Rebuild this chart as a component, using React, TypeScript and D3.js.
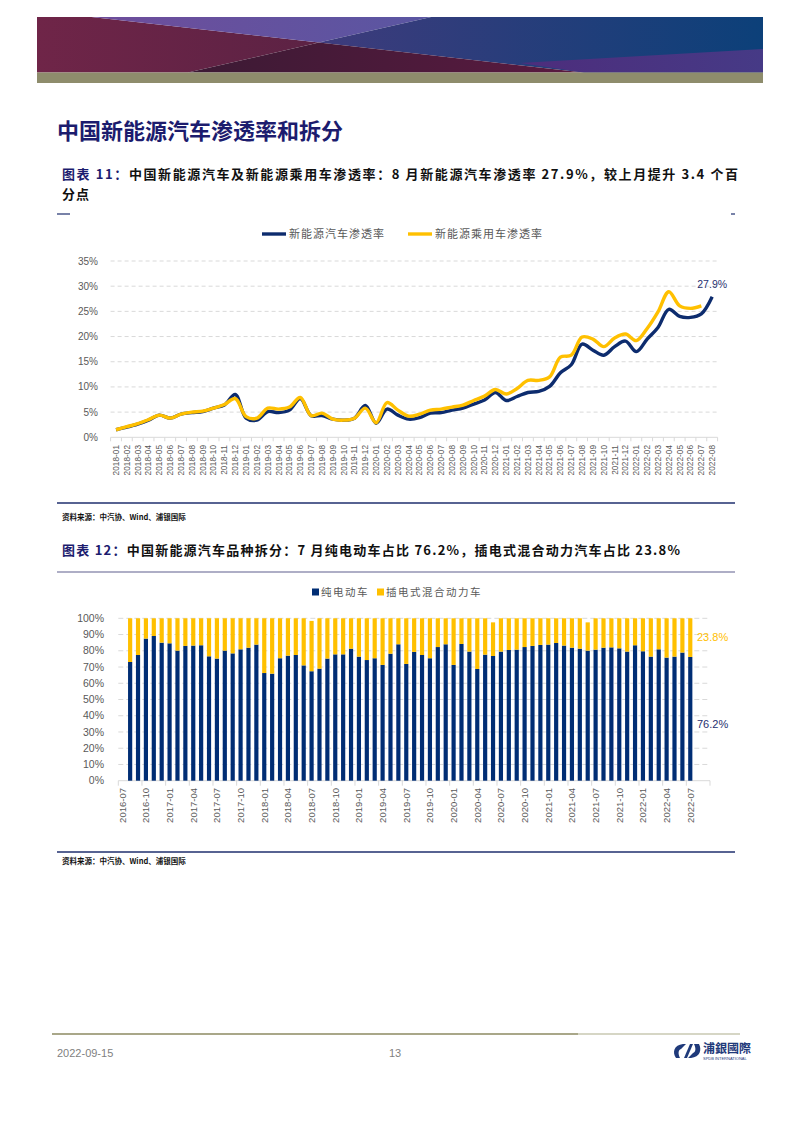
import React from "react";
import * as d3 from "d3";

// ---------- Chart 1 data ----------
const months1: string[] = (() => {
  const out: string[] = [];
  for (let y = 2018; y <= 2022; y++)
    for (let m = 1; m <= 12; m++) {
      if (y === 2022 && m > 8) break;
      out.push(`${y}-${String(m).padStart(2, "0")}`);
    }
  return out;
})();

const nevRate: number[] = [
  1.5, 2.0, 2.6, 3.4, 4.4, 3.8, 4.6, 4.9, 5.1, 5.8, 6.4, 8.5,
  3.8, 3.4, 5.1, 4.9, 5.4, 7.7, 4.3, 4.3, 3.6, 3.4, 3.8, 6.3,
  2.8, 5.6, 4.4, 3.6, 3.9, 4.8, 4.9, 5.4, 5.8, 6.6, 7.4, 8.9,
  7.3, 8.1, 8.9, 9.1, 10.1, 12.8, 14.4, 18.5, 17.3, 16.3, 18.0, 19.1,
  17.0, 19.5, 21.8, 25.4, 24.0, 23.8, 24.5, 27.9,
];
const passRate: number[] = [
  1.5, 2.1, 2.7, 3.5, 4.4, 3.8, 4.6, 5.0, 5.2, 5.8, 6.5, 7.7,
  4.1, 3.8, 5.8, 5.6, 6.0, 7.9, 4.3, 4.8, 3.6, 3.4, 3.8, 5.8,
  2.9, 6.9, 5.4, 4.2, 4.6, 5.4, 5.6, 6.0, 6.4, 7.3, 8.2, 9.5,
  8.6, 9.7, 11.3, 11.3, 12.0, 15.9, 16.3, 19.9, 19.5, 18.0, 19.7, 20.5,
  19.2, 21.6, 24.9, 28.9, 26.1, 25.6, 26.1,
];
const yTicks1: number[] = [0, 5, 10, 15, 20, 25, 30, 35];

// ---------- Chart 2 data ----------
const months2: string[] = (() => {
  const out: string[] = [];
  for (let y = 2016; y <= 2022; y++)
    for (let m = 1; m <= 12; m++) {
      if (y === 2016 && m < 7) continue;
      if (y === 2022 && m > 9) break;
      out.push(`${y}-${String(m).padStart(2, "0")}`);
    }
  return out;
})();
// first category (2016-07) and last two (2022-08, 2022-09) carry no bars
const bevStart = "2016-08";
const bevShare: number[] = [
  73.1, 77.4, 87.5, 89.1, 85.0, 84.6, 80.1, 83.0, 83.2, 83.4,
  76.6, 75.2, 80.1, 78.4, 80.9, 81.9, 83.8, 66.3, 65.9, 75.4,
  77.0, 77.4, 71.0, 67.4, 69.0, 75.2, 77.8, 77.8, 81.3, 76.4,
  74.3, 75.4, 71.3, 78.2, 84.0, 71.9, 79.3, 77.4, 75.4, 82.3,
  84.0, 71.3, 84.2, 79.5, 68.8, 77.6, 76.8, 79.5, 80.5, 80.7,
  82.3, 83.0, 83.6, 83.8, 84.8, 83.2, 81.9, 81.3, 80.1, 80.7,
  81.9, 82.1, 81.5, 79.5, 83.4, 79.7, 76.4, 80.9, 75.8, 76.4,
  78.9, 76.2,
];
const phevShare: number[] = [
  26.9, 22.6, 12.5, 10.9, 15.0, 15.4, 19.9, 17.0, 16.8, 16.6,
  23.4, 24.8, 19.9, 21.6, 19.1, 18.1, 16.2, 33.7, 34.1, 24.6,
  23.0, 22.6, 29.0, 31.0, 31.0, 24.8, 22.2, 22.2, 18.7, 23.6,
  25.7, 24.6, 28.7, 21.8, 16.0, 28.1, 20.7, 22.6, 24.6, 17.7,
  16.0, 28.7, 15.8, 20.5, 31.2, 22.4, 20.7, 20.5, 19.5, 19.3,
  17.7, 17.0, 16.4, 16.2, 15.2, 16.8, 18.1, 18.7, 17.4, 19.3,
  18.1, 17.9, 18.5, 20.5, 16.6, 20.3, 23.6, 19.1, 24.2, 23.6,
  21.1, 23.8,
];
const yTicks2: number[] = [0, 10, 20, 30, 40, 50, 60, 70, 80, 90, 100];

const NAVY = "#0d2c6e";
const YELLOW = "#ffc000";
const GRID = "#d9d9d9";
const AXIS_TXT = "#595959";
const CJK = "'Noto Sans CJK SC', 'Noto Sans', sans-serif";
const LAT = "'Liberation Sans', Arial, sans-serif";

function Banner() {
  const x0 = 37, x1 = 763, y0 = 17, y1 = 72.5;
  const P = (pts: number[][]) => pts.map((p) => p.join(",")).join(" ");
  return (
    <g>
      <defs>
        <linearGradient id="gR1" x1="0" x2="1"><stop offset="0" stopColor="#6f2548" /><stop offset="1" stopColor="#5c2244" /></linearGradient>
        <linearGradient id="gR2" x1="0" x2="1"><stop offset="0" stopColor="#6e4d9b" /><stop offset="1" stopColor="#5a56a2" /></linearGradient>
        <linearGradient id="gR3" x1="0" x2="1"><stop offset="0" stopColor="#3e3b7c" /><stop offset="1" stopColor="#0c4079" /></linearGradient>
        <linearGradient id="gR4" x1="0" x2="1"><stop offset="0" stopColor="#3c1a34" /><stop offset="1" stopColor="#5a1a40" /></linearGradient>
        <linearGradient id="gR5" x1="0" x2="1"><stop offset="0" stopColor="#4d2d7c" /><stop offset="1" stopColor="#463a86" /></linearGradient>
      </defs>
      <polygon points={P([[x0, y0], [91.5, y0], [318.9, 42.6], [188, y1], [x0, y1]])} fill="url(#gR1)" />
      <polygon points={P([[91.5, y0], [431.2, y0], [318.9, 42.6]])} fill="url(#gR2)" />
      <polygon points={P([[431.2, y0], [x1, y0], [x1, y1], [583.7, y1], [318.9, 42.6]])} fill="url(#gR3)" />
      <polygon points={P([[318.9, 42.6], [583.7, y1], [188, y1]])} fill="url(#gR4)" />
      <polygon points={P([[520, 63], [x1, 49], [x1, y1], [583.7, y1]])} fill="url(#gR5)" />
      <rect x={x0} y={y1} width={x1 - x0} height={10.5} fill="#8e8c6c" />
    </g>
  );
}

function Chart1() {
  const x = d3.scaleBand<string>().domain(months1).range([110.6, 717.6]);
  const bw = x.bandwidth();
  const cx = (d: string) => (x(d) as number) + bw / 2;
  const y = d3.scaleLinear().domain([0, 35]).range([437.3, 261]);
  const line = d3
    .line<number>()
    .x((_, i) => cx(months1[i]))
    .y((v) => y(v))
    .curve(d3.curveCatmullRom.alpha(0.5));
  const last = months1[nevRate.length - 1];
  return (
    <g>
      {yTicks1.map((t) => (
        <g key={t}>
          {t > 0 && (
            <line x1={110.6} x2={717.6} y1={y(t)} y2={y(t)} stroke={GRID} strokeWidth={1} strokeDasharray="4,3" />
          )}
          <text x={98} y={y(t)} dy="0.35em" textAnchor="end" fontSize={10} fill={AXIS_TXT} fontFamily={LAT}>
            {t}%
          </text>
        </g>
      ))}
      <line x1={110.6} x2={717.6} y1={y(0)} y2={y(0)} stroke={GRID} strokeWidth={1} />
      {months1.map((m) => (
        <line key={"t" + m} x1={x(m) as number} x2={x(m) as number} y1={y(0)} y2={y(0) + 4} stroke={GRID} />
      ))}
      <line x1={717.6} x2={717.6} y1={y(0)} y2={y(0) + 4} stroke={GRID} />
      {months1.map((m) => (
        <text
          key={"l" + m}
          transform={`translate(${cx(m) + 2.9},${445}) rotate(-90)`}
          textAnchor="end"
          fontSize={8.3}
          fill={AXIS_TXT}
          fontFamily={LAT}
        >
          {m}
        </text>
      ))}
      <path d={line(nevRate) || ""} fill="none" stroke={NAVY} strokeWidth={3.4} strokeLinejoin="round" />
      <path d={line(passRate) || ""} fill="none" stroke={YELLOW} strokeWidth={3.4} strokeLinejoin="round" />
      <text x={cx(last)} y={y(nevRate[nevRate.length - 1]) - 9} textAnchor="middle" fontSize={10.5} fill="#1f3070" fontFamily={LAT}>
        27.9%
      </text>
      {/* legend */}
      <line x1={262} x2={286} y1={234} y2={234} stroke={NAVY} strokeWidth={3.4} />
      <text x={289} y={238} fontSize={11} fill={AXIS_TXT} fontFamily={CJK} letterSpacing={1}>新能源汽车渗透率</text>
      <line x1={408} x2={432} y1={234} y2={234} stroke={YELLOW} strokeWidth={3.4} />
      <text x={435} y={238} fontSize={11} fill={AXIS_TXT} fontFamily={CJK} letterSpacing={1}>新能源乘用车渗透率</text>
    </g>
  );
}

function Chart2() {
  const x = d3.scaleBand<string>().domain(months2).range([118.3, 710]).paddingInner(0.47).paddingOuter(0.235);
  const xb = d3.scaleBand<string>().domain(months2).range([118.3, 710]);
  const y = d3.scaleLinear().domain([0, 100]).range([780.7, 618.3]);
  const startIdx = months2.indexOf(bevStart);
  const bars = bevShare.map((b, i) => ({ m: months2[startIdx + i], b, p: phevShare[i] }));
  const labelMonths = months2.filter((_, i) => i % 3 === 0 && i < months2.length - 2);
  const tickIdx = d3.range(0, months2.length + 1, 3);
  const cxb = (d: string) => (xb(d) as number) + xb.bandwidth() / 2;
  const lastBar = bars[bars.length - 1];
  return (
    <g>
      {yTicks2.map((t) => (
        <g key={t}>
          {t > 0 && (
            <line x1={118.3} x2={710} y1={y(t)} y2={y(t)} stroke={GRID} strokeWidth={1} strokeDasharray="5,3" />
          )}
          <text x={104} y={y(t)} dy="0.35em" textAnchor="end" fontSize={10.5} fill={AXIS_TXT} fontFamily={LAT}>
            {t}%
          </text>
        </g>
      ))}
      <line x1={118.3} x2={710} y1={y(0)} y2={y(0)} stroke={GRID} strokeWidth={1} />
      {tickIdx.map((i) => {
        const xx = 118.3 + i * xb.bandwidth();
        return <line key={"tk" + i} x1={xx} x2={xx} y1={y(0)} y2={y(0) + 5} stroke={GRID} />;
      })}
      {bars.map((d) => (
        <g key={d.m}>
          <rect x={x(d.m)} width={x.bandwidth()} y={y(d.b)} height={y(0) - y(d.b)} fill="#002d74" />
          <rect x={x(d.m)} width={x.bandwidth()} y={y(d.b + d.p)} height={y(d.b) - y(d.b + d.p)} fill={YELLOW} />
        </g>
      ))}
      {labelMonths.map((m) => (
        <text
          key={"l" + m}
          transform={`translate(${cxb(m) + 3.4},${788}) rotate(-90)`}
          textAnchor="end"
          fontSize={9.5}
          fill={AXIS_TXT}
          fontFamily={LAT}
        >
          {m}
        </text>
      ))}
      <text x={697} y={y(lastBar.b + lastBar.p / 2)} dy="0.35em" fontSize={11} fill={YELLOW} fontFamily={LAT}>
        {lastBar.p}%
      </text>
      <text x={697} y={y(lastBar.b / 2) + 5} dy="0.35em" fontSize={11} fill="#1f3070" fontFamily={LAT}>
        {lastBar.b}%
      </text>
      {/* legend */}
      <rect x={312} y={588.5} width={7} height={7} fill="#002d74" />
      <text x={321} y={596} fontSize={10.5} fill={AXIS_TXT} fontFamily={CJK} letterSpacing={1.5}>纯电动车</text>
      <rect x={377} y={588.5} width={7} height={7} fill={YELLOW} />
      <text x={386} y={596} fontSize={10.5} fill={AXIS_TXT} fontFamily={CJK} letterSpacing={1.5}>插电式混合动力车</text>
    </g>
  );
}

export default function App() {
  return (
    <svg
      width={794}
      height={1123}
      viewBox="0 0 794 1123"
      style={{ position: "absolute", left: 0, top: 0, background: "#fff" }}
    >
      <rect width={794} height={1123} fill="#fff" />
      <Banner />
      <text x={57} y={139} fontSize={22} fontWeight="bold" fill="#1c1c6e" fontFamily={CJK}>
        中国新能源汽车渗透率和拆分
      </text>
      <text x={62} y={179} fontSize={13} fontWeight="bold" fill="#111" fontFamily={CJK} textLength={676} lengthAdjust="spacing">
        <tspan fill="#1c1c6e">图表 11：</tspan>中国新能源汽车及新能源乘用车渗透率：8 月新能源汽车渗透率 27.9%，较上月提升 3.4 个百
      </text>
      <text x={62} y={199} fontSize={13} fontWeight="bold" fill="#111" fontFamily={CJK} letterSpacing={1}>分点</text>
      <line x1={57} x2={70} y1={214} y2={214} stroke="#1f2f6e" strokeWidth={1.2} />
      <line x1={731} x2={735} y1={214} y2={214} stroke="#1f2f6e" strokeWidth={1.2} />
      <Chart1 />
      <line x1={57} x2={735} y1={503} y2={503} stroke="#1f2f6e" strokeWidth={1.5} />
      <text x={62} y={520} fontSize={7.5} fontWeight="bold" fill="#111" fontFamily={CJK}>资料来源：中汽协、Wind、浦银国际</text>

      <text x={62} y={555} fontSize={13} fontWeight="bold" fill="#111" fontFamily={CJK} textLength={618} lengthAdjust="spacing">
        <tspan fill="#1c1c6e">图表 12：</tspan>中国新能源汽车品种拆分：7 月纯电动车占比 76.2%，插电式混合动力汽车占比 23.8%
      </text>
      <line x1={57} x2={735} y1={572} y2={572} stroke="#5e5e8e" strokeWidth={1.2} />
      <Chart2 />
      <line x1={57} x2={735} y1={852} y2={852} stroke="#1f2f6e" strokeWidth={1.5} />
      <text x={62} y={864} fontSize={7.5} fontWeight="bold" fill="#111" fontFamily={CJK}>资料来源：中汽协、Wind、浦银国际</text>

      {/* footer */}
      <line x1={52} x2={578} y1={1034} y2={1034} stroke="#8c8a62" strokeWidth={1.5} />
      <line x1={578} x2={740} y1={1034} y2={1034} stroke="#c9c8b2" strokeWidth={1.5} />
      <text x={57} y={1057} fontSize={11} fill="#7f7f7f" fontFamily="'Liberation Sans Narrow', 'Liberation Sans', Arial">2022-09-15</text>
      <text x={389} y={1057} fontSize={11} fill="#7f7f7f" fontFamily="'Liberation Sans Narrow', 'Liberation Sans', Arial">13</text>
      <g>
        <path d="M676,1058 C672,1052 674,1045 683,1044 L686,1044 L681,1049 C678,1050 678,1054 680,1058 Z" fill="#1f3a7a" />
        <path d="M699,1044 C702,1050 700,1057 691,1058 L688,1058 L693,1053 C696,1052 696,1048 694,1044 Z" fill="#1f3a7a" />
        <path d="M684,1058 L690,1044 L693,1044 L687,1058 Z" fill="#1f3a7a" />
        <text x={703} y={1053} fontSize={12} fontWeight="bold" fill="#1f3a7a" fontFamily="'Noto Sans CJK TC', sans-serif">浦銀國際</text>
        <text x={703} y={1060} fontSize={4} fill="#1f3a7a" fontFamily={LAT}>SPDB INTERNATIONAL</text>
      </g>
    </svg>
  );
}
